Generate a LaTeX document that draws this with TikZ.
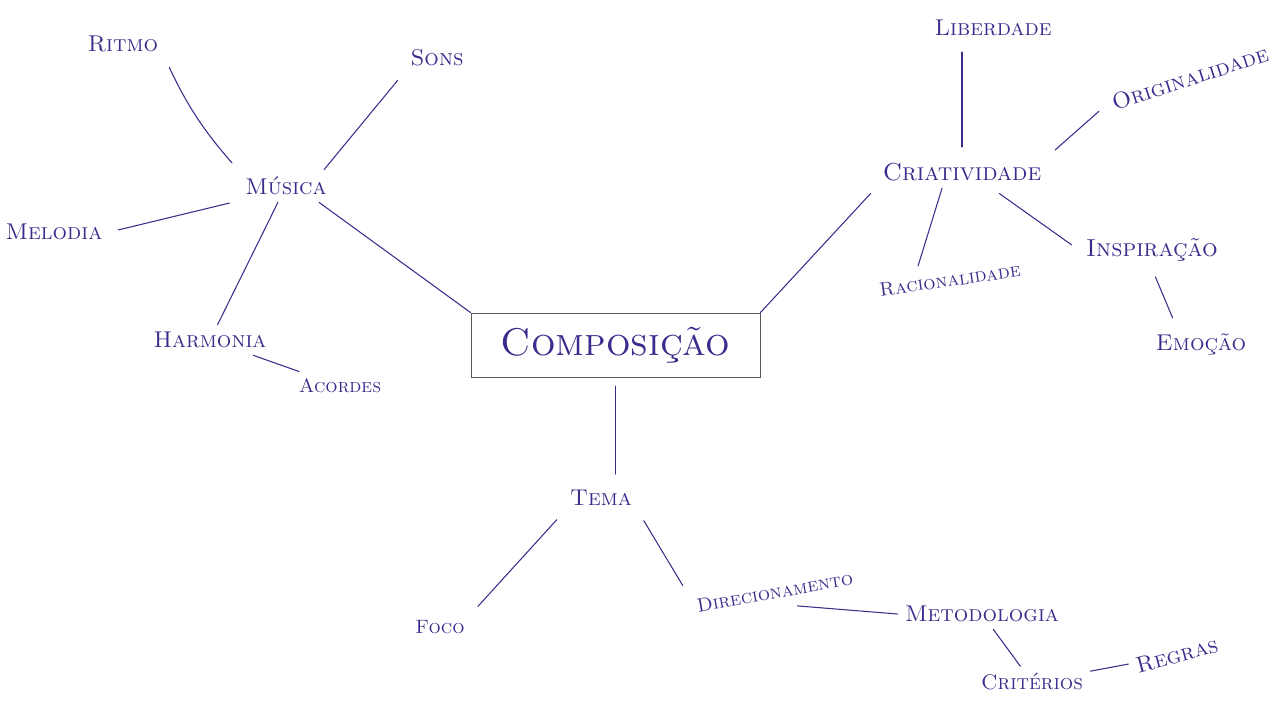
\documentclass[tikz,border=0pt]{standalone}
\usepackage{tikz}

\definecolor{ink}{HTML}{3A2C8C}

\tikzset{
    word/.style={text=ink, font=\scshape\fontsize{13}{15}\selectfont, inner sep=4pt},
    small/.style={font=\scshape\fontsize{11}{13}\selectfont},
    link/.style={draw=ink, line width=0.6pt, line cap=round},
    gap/.style={shorten >=5pt, shorten <=5pt},
    mainbox/.style={draw=black!65, line width=0.5pt, text=ink, minimum width=5.78cm,
        minimum height=1.28cm, font=\scshape\fontsize{22}{24}\selectfont}
}

\begin{document}
\begin{tikzpicture}[x=0.02cm, y=-0.02cm]
    \useasboundingbox (0,0) rectangle (1280,704);

    % Draw nodes
    \node[mainbox] (comp) at (615.5,345) {Composição};

    \node[word] (musica) at (286,186) {Música};
    \node[word] (ritmo) at (123,44) {Ritmo};
    \node[word] (sons) at (437,58) {Sons};
    \node[word] (melodia) at (54,232) {Melodia};
    \node[word] (harmonia) at (210,340) {Harmonia};
    \node[word, small] (acordes) at (340,386) {Acordes};

    \node[word, font=\scshape\fontsize{14}{16}\selectfont] (criat) at (962,172) {Criatividade};
    \node[word] (liber) at (993,28) {Liberdade};
    \node[word, rotate=18] (orig) at (1190,78) {Originalidade};
    \node[word, small, rotate=8] (racio) at (950,280) {Racionalidade};
    \node[word, font=\scshape\fontsize{14}{16}\selectfont] (inspi) at (1152,250) {Inspiração};
    \node[word] (emocao) at (1201,344) {Emoção};

    \node[word] (tema) at (601,498) {Tema};
    \node[word, small] (foco) at (440,627) {Foco};
    \node[word, small, rotate=10] (direc) at (775,592) {Direcionamento};
    \node[word] (metod) at (982,614) {Metodologia};
    \node[word, font=\scshape\fontsize{12}{14}\selectfont] (crit) at (1032,682) {Critérios};
    \node[word, rotate=15] (regras) at (1177,655) {Regras};

    % Draw connections
    \draw[link, gap] (ritmo.south east) to[bend right=8] (musica.north west);
    \draw[link, shorten <=5pt] (sons.south west) -- ([xshift=-0.2cm]musica.north east);
    \draw[link, gap] (melodia.east) -- ([yshift=-0.3cm]musica.west);
    \draw[link] (harmonia) -- (musica);
    \draw[link] (harmonia) -- (acordes);
    \draw[link] ([xshift=-0.3cm]musica.south east) -- (comp.north west);

    \draw[link, shorten <=4pt] (criat.south west) -- (comp.north east);
    \draw[link, gap] (liber.south -| criat.north) -- (criat.north);
    \draw[link, gap] (criat.north east) -- (orig.west);
    \draw[link] ([xshift=-0.6cm]racio.north) -- ([xshift=-0.4cm]criat.south);
    \draw[link, gap] ([xshift=0.6cm]criat.south) -- (inspi.west);
    \draw[link, gap] (inspi.south) -- ([xshift=-0.5cm]emocao.north);

    \draw[link, gap] (comp.south) -- (comp.south |- tema.north);
    \draw[link, gap] (tema.south west) -- (foco.north east);
    \draw[link, gap] (tema.south east) -- (direc.north west);
    \draw[link] ([xshift=0.4cm]direc.south) -- (metod.west);
    \draw[link] (metod) -- (crit);
    \draw[link] (crit) -- (regras);
\end{tikzpicture}
\end{document}
